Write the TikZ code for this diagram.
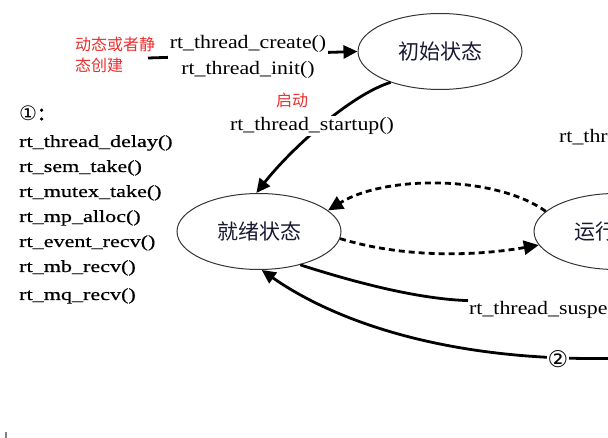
\documentclass[tikz,border=0pt]{standalone}
\usepackage{fontspec}
\setmainfont{Liberation Serif}
\newfontfamily\lblfont[FakeStretch=1.15]{Liberation Serif}
\newfontfamily\lstfont[FakeStretch=1.3,FakeBold=0.6]{Liberation Serif}
\newfontfamily\cjkfont{Noto Sans CJK SC}
\newfontfamily\cjkboldfont[FakeBold=3]{Noto Sans CJK SC}
\newfontfamily\dvsfont{DejaVu Sans}
\usetikzlibrary{shapes.geometric,arrows.meta}
\definecolor{redtxt}{RGB}{235,45,45}
\definecolor{navytxt}{RGB}{25,25,50}
\tikzset{
  state/.style={ellipse, draw=black!80, line width=1pt, minimum width=164pt, minimum height=76pt,
    inner sep=0pt, font=\cjkfont\fontsize{21}{24}\selectfont, text=navytxt},
  conn/.style={line width=2.8pt, -{Triangle[length=14pt,width=13pt]}},
  plainconn/.style={line width=2.8pt},
  dconn/.style={line width=2.8pt, dash pattern=on 6pt off 4pt, -{Triangle[length=15pt,width=14pt]}},
  lbl/.style={font=\lblfont\fontsize{19}{26}\selectfont, inner sep=1pt},
  lst/.style={font=\lstfont\fontsize{17}{25}\selectfont, inner sep=0pt, anchor=base west},
  redlbl/.style={font=\cjkfont\fontsize{16}{21}\selectfont, text=redtxt, inner sep=0pt, anchor=base west},
}
\begin{document}
\begin{tikzpicture}[x=1pt,y=-1pt]
\useasboundingbox (0,0) rectangle (608,438);
\clip (0,0) rectangle (608,438);

% states
\node[state] (init)  at (440,51.5) {初始状态};
\node[state] (ready) at (259,231.5) {就绪状态};
\node[state] (run)   at (616,231.5) {运行状态};

% create
\coordinate (cstart) at (148,58);
\draw[conn] (cstart) -- (init.west);
\node[lbl, fill=white, align=center, inner sep=2pt] (createlbl) at (248,57) {rt\_thread\_create()\\rt\_thread\_init()};
\node[redlbl] (redcreate1) at (75,51) {动态或者静};
\node[redlbl] (redcreate2) at (75,72) {态创建};

% startup
\draw[conn] (init.212) .. controls (350,95) and (290,150) .. (ready.94);
\node[lbl, fill=white, anchor=base] (startlbl) at (312,130.5) {rt\_thread\_startup()};
\node[redlbl] (startred) at (276,107) {启动};

% ready <-> run
\draw[dconn] (run.164) .. controls (495,175) and (385,175) .. (ready.17);
\draw[dconn] (ready.-5) .. controls (400,257) and (470,257) .. (run.190);

% top right label
\node[lbl, anchor=base west] (exitlbl) at (558,143) {rt\_thread\_exit()};

% suspend
\node[lbl, fill=white, anchor=base west] (susplbl) at (468,315) {rt\_thread\_suspend()};
\draw[plainconn] (ready.-39) .. controls (360,284) and (420,299) .. (susplbl.north west);

% (2) arrow
\coordinate (c2) at (650,357);
\draw[conn] (c2) .. controls (450,368) and (330,318) .. (ready.-86);
\node[font=\dvsfont\fontsize{23}{25}\selectfont, fill=white, inner sep=0.3pt] (circ2) at (558,359) {②};

% list (1)
\node[anchor=west, inner sep=0pt] (one) at (19,113) {{\dvsfont\fontsize{20}{22}\selectfont ①}{\cjkboldfont\fontsize{18}{20}\selectfont ：}};
\node[lst] (l1) at (19,147) {rt\_thread\_delay()};
\node[lst] (l2) at (19,172) {rt\_sem\_take()};
\node[lst] (l3) at (19,197) {rt\_mutex\_take()};
\node[lst] (l4) at (19,222) {rt\_mp\_alloc()};
\node[lst] (l5) at (19,247) {rt\_event\_recv()};
\node[lst] (l6) at (19,272) {rt\_mb\_recv()};
\node[lst] (l7) at (19,300) {rt\_mq\_recv()};

% small mark
\draw[gray, line width=1.5pt] (6,432) -- (6,438);
\end{tikzpicture}
\end{document}
